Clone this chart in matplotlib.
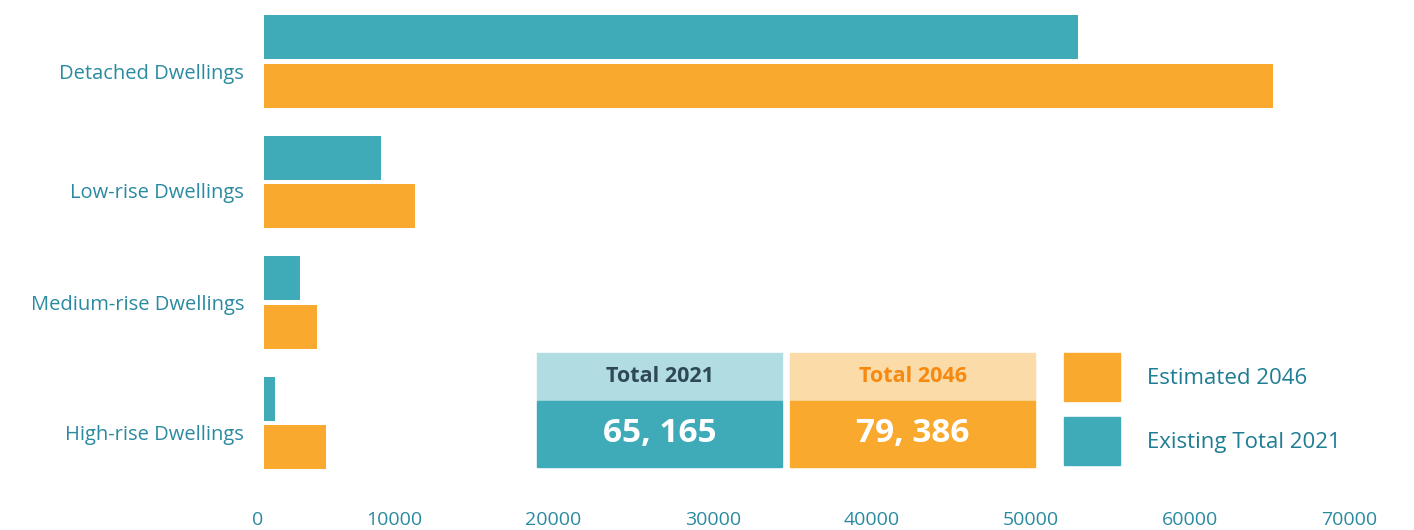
import matplotlib
matplotlib.use("Agg")
import matplotlib.pyplot as plt
import matplotlib.transforms as mtransforms
import numpy as np
from matplotlib.patches import Rectangle, Patch

plt.rcParams["font.family"] = ["Open Sans", "DejaVu Sans"]

# data
categories = ["Detached Dwellings", "Low-rise Dwellings", "Medium-rise Dwellings", "High-rise Dwellings"]
existing_2021 = [51180, 7370, 2310, 700]
estimated_2046 = [63440, 9500, 3340, 3910]
total_labels = ["Total 2021", "Total 2046"]
total_values = ["65, 165", "79, 386"]
legend_labels = ["Estimated 2046", "Existing Total 2021"]
xticks = [0, 10000, 20000, 30000, 40000, 50000, 60000, 70000]

TEAL = "#40ABB8"
ORANGE = "#F9AA2E"
TEAL_LIGHT = "#B1DCE1"
ORANGE_LIGHT = "#FBDBA7"
LABEL_COL = "#2A8AA0"
LEGEND_COL = "#1E7C94"

W, H = 1414, 530
fig = plt.figure(figsize=(W / 100, H / 100), dpi=100)
ax = fig.add_axes([263.5 / W, 40 / H, (1377 - 263.5) / W, 490 / H])

y = np.arange(len(categories))
off = 0.203
bh = 0.365
ax.barh(y - off, existing_2021, height=bh, color=TEAL, label=legend_labels[1])
ax.barh(y + off, estimated_2046, height=bh, color=ORANGE, label=legend_labels[0])

ax.set_xlim(0, 70000)
ax.set_ylim(3.556, -0.51)
ax.set_yticks(y)
ax.set_yticklabels(categories, fontsize=14.5, color=LABEL_COL)
ax.set_xticks(xticks)
ax.set_xticklabels([str(t) for t in xticks], fontsize=14, color=LABEL_COL)
for lab in ax.get_xticklabels():
    lab.set_ha("right")
ax.tick_params(axis="x", length=0, pad=15)
ax.tick_params(axis="y", length=0, pad=14)
# the source nudges most category labels a little below the bar pair centre
for lab, dy in zip(ax.get_yticklabels(), [-10, -9, 0, -10]):
    lab.set_transform(lab.get_transform() + mtransforms.ScaledTranslation(0, dy / 100, fig.dpi_scale_trans))
for s in ax.spines.values():
    s.set_visible(False)

# totals boxes (pixel layout -> figure fraction)
def fbox(x0, y0, x1, y1, color):
    fig.patches.append(Rectangle((x0 / W, 1 - y1 / H), (x1 - x0) / W, (y1 - y0) / H,
                                 transform=fig.transFigure, color=color, zorder=0))

boxes = [(537, 782, TEAL_LIGHT, TEAL, "#2F4858"), (790, 1035, ORANGE_LIGHT, ORANGE, "#F7890F")]
for (x0, x1, light, dark, hcol), lab, val in zip(boxes, total_labels, total_values):
    fbox(x0, 353, x1, 401, light)
    fbox(x0, 401, x1, 467, dark)
    cx = (x0 + x1) / 2 / W
    fig.text(cx, 1 - 377 / H, lab, ha="center", va="center", fontsize=15.5,
             fontweight="bold", color=hcol)
    fig.text(cx, 1 - 434 / H, val, ha="center", va="center", fontsize=24,
             fontweight="bold", color="white")

# legend
fs = 16
fpx = fs * 100 / 72
# legend box height = fs * (0.65 * handleheight + 0.245)
hh = (48 / fpx - 0.245) / 0.65
handles = [Patch(color=ORANGE), Patch(color=TEAL)]
fig.legend(handles, legend_labels, loc="upper left", bbox_to_anchor=(1064 / W, 1 - 353 / H),
           frameon=False, fontsize=fs, labelcolor=LEGEND_COL, borderpad=0, borderaxespad=0,
           handlelength=56 / fpx, handleheight=hh, handletextpad=27 / fpx,
           labelspacing=16 / fpx)

fig.savefig("out.png", dpi=100)
